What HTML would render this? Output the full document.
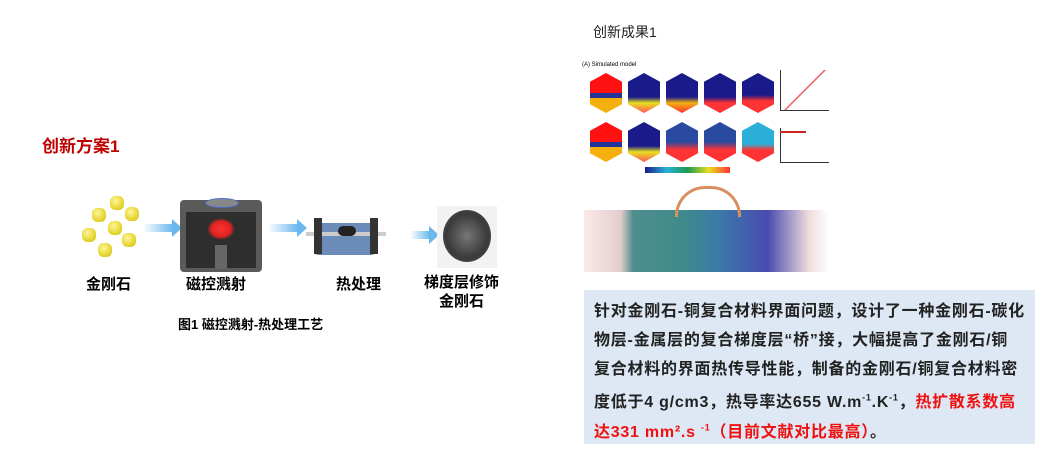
<!DOCTYPE html>
<html><head><meta charset="utf-8"><style>
body{margin:0;width:1049px;height:466px;background:#fff;position:relative;overflow:hidden;font-family:"Liberation Sans","Noto Sans CJK SC",sans-serif}
.a{position:absolute}
.b{font-weight:bold}
.arrow{position:absolute;height:8px;background:linear-gradient(90deg,rgba(120,190,240,0),#6ab8ee)}
.arrow:after{content:"";position:absolute;right:-9px;top:-5px;border-left:10px solid #6ab8ee;border-top:9px solid transparent;border-bottom:9px solid transparent}
.d{position:absolute;width:14px;height:14px;border-radius:40%;background:radial-gradient(circle at 40% 35%,#fff59a,#e6d630 60%,#c8b820)}
.cube{position:absolute;width:32px;height:40px;clip-path:polygon(50% 0,100% 22%,100% 78%,50% 100%,0 78%,0 22%)}
.tb{position:absolute;left:584px;top:290px;width:451px;height:154px;background:#dde8f4}
.tl{position:absolute;left:594px;font-size:16px;font-weight:bold;color:#222;white-space:nowrap;letter-spacing:0.75px}
.r{color:#f01010}
</style></head><body>
<div class="a b" style="left:42px;top:132px;font-size:17px;color:#c00000">创新方案1</div>
<div class="a" style="left:593px;top:22px;font-size:14px;color:#222">创新成果1</div>

<div class="d" style="left:110px;top:196px"></div><div class="d" style="left:125px;top:207px"></div>
<div class="d" style="left:92px;top:208px"></div><div class="d" style="left:108px;top:221px"></div>
<div class="d" style="left:82px;top:228px"></div><div class="d" style="left:122px;top:233px"></div>
<div class="d" style="left:98px;top:243px"></div>
<div class="arrow" style="left:143px;top:224px;width:30px"></div>
<div class="a" style="left:180px;top:200px;width:82px;height:72px;background:#5a5a5a;border-radius:4px"></div>
<div class="a" style="left:186px;top:212px;width:70px;height:56px;background:#2e2e2e"></div>
<div class="a" style="left:205px;top:198px;width:32px;height:8px;background:#888;border:1px solid #4a6ad0;border-radius:50%"></div>
<div class="a" style="left:207px;top:218px;width:28px;height:22px;background:radial-gradient(#f33,#d22 50%,transparent 70%)"></div>
<div class="a" style="left:215px;top:245px;width:12px;height:24px;background:#666"></div>
<div class="arrow" style="left:268px;top:224px;width:30px"></div>
<div class="a" style="left:316px;top:223px;width:58px;height:32px;background:#6b8cb8;border-radius:2px"></div>
<div class="a" style="left:306px;top:232px;width:80px;height:4px;background:#ccc"></div>
<div class="a" style="left:314px;top:218px;width:8px;height:36px;background:#333"></div>
<div class="a" style="left:370px;top:218px;width:8px;height:36px;background:#333"></div>
<div class="a" style="left:338px;top:226px;width:18px;height:10px;background:#222;border-radius:5px"></div>
<div class="arrow" style="left:410px;top:231px;width:20px"></div>
<div class="a" style="left:437px;top:206px;width:60px;height:62px;background:#f2f2f2"></div>
<div class="a" style="left:443px;top:210px;width:48px;height:52px;border-radius:50%;background:radial-gradient(#777,#3a3a3a 60%,#555)"></div>

<div class="a b" style="left:86px;top:273px;font-size:15px">金刚石</div>
<div class="a b" style="left:186px;top:273px;font-size:15px">磁控溅射</div>
<div class="a b" style="left:336px;top:273px;font-size:15px">热处理</div>
<div class="a b" style="left:424px;top:273px;font-size:15px;text-align:center;line-height:19px">梯度层修饰<br>金刚石</div>
<div class="a b" style="left:178px;top:314px;font-size:13px">图1 磁控溅射-热处理工艺</div>

<div class="a" style="left:582px;top:62px;font-size:6px">(A) Simulated model</div>
<div class="cube" style="left:590px;top:73px;background:linear-gradient(#f11 0 50%,#223399 50% 62%,#f5b010 62%)"></div>
<div class="cube" style="left:628px;top:73px;background:linear-gradient(#1a1a8a 0 60%,#e8e020 75%,#f55)"></div>
<div class="cube" style="left:666px;top:73px;background:linear-gradient(#1a1a8a 0 60%,#f5b010 75%,#f33)"></div>
<div class="cube" style="left:704px;top:73px;background:linear-gradient(#1a1a8a 0 60%,#f33 75%)"></div>
<div class="cube" style="left:742px;top:73px;background:linear-gradient(#1a1a8a 0 55%,#f33 70%)"></div>
<div class="cube" style="left:590px;top:122px;background:linear-gradient(#f11 0 50%,#223399 50% 62%,#f5b010 62%)"></div>
<div class="cube" style="left:628px;top:122px;background:linear-gradient(#1a1a8a 0 60%,#e8e020 75%,#f55)"></div>
<div class="cube" style="left:666px;top:122px;background:linear-gradient(#2a4aa0 0 50%,#f33 70%)"></div>
<div class="cube" style="left:704px;top:122px;background:linear-gradient(#2a4aa0 0 50%,#f33 70%)"></div>
<div class="cube" style="left:742px;top:122px;background:linear-gradient(#2ab0d8 0 55%,#f33 70%)"></div>
<div class="a" style="left:645px;top:167px;width:85px;height:6px;background:linear-gradient(90deg,#1a1a8a,#2ab0d8,#1a9a50,#e8e020,#f33)"></div>
<div class="a" style="left:780px;top:70px;width:48px;height:40px;border-left:1px solid #333;border-bottom:1px solid #333;background:linear-gradient(135deg,#fff 48%,#e44 50%,#fff 52%)"></div>
<div class="a" style="left:780px;top:128px;width:48px;height:34px;border-left:1px solid #333;border-bottom:1px solid #333"></div>
<div class="a" style="left:780px;top:131px;width:26px;height:2px;background:#c22"></div>
<div class="a" style="left:584px;top:210px;width:245px;height:62px;background:linear-gradient(90deg,#fbeaea,#e4cccc 15%,#4f8e8f 20%,#3f8a8a 40%,#3a7aa8 55%,#4a4ab0 75%,#f0dede 92%,#fff)"></div>
<div class="a" style="left:675px;top:186px;width:60px;height:28px;border:3px solid #d99060;border-bottom:none;border-radius:30px 30px 0 0"></div>

<div class="tb"></div>
<div class="tl" style="top:297px">针对金刚石-铜复合材料界面问题，设计了一种金刚石-碳化</div>
<div class="tl" style="top:326px">物层-金属层的复合梯度层“桥”接，大幅提高了金刚石/铜</div>
<div class="tl" style="top:355px">复合材料的界面热传导性能，制备的金刚石/铜复合材料密</div>
<div class="tl" style="top:388px">度低于4 g/cm3，热导率达655 W.m<sup style="font-size:9px">-1</sup>.K<sup style="font-size:9px">-1</sup>，<span class="r">热扩散系数高</span></div>
<div class="tl" style="top:418px"><span class="r">达331 mm².s <sup style="font-size:9px">-1</sup>（目前文献对比最高）</span>。</div>
</body></html>
